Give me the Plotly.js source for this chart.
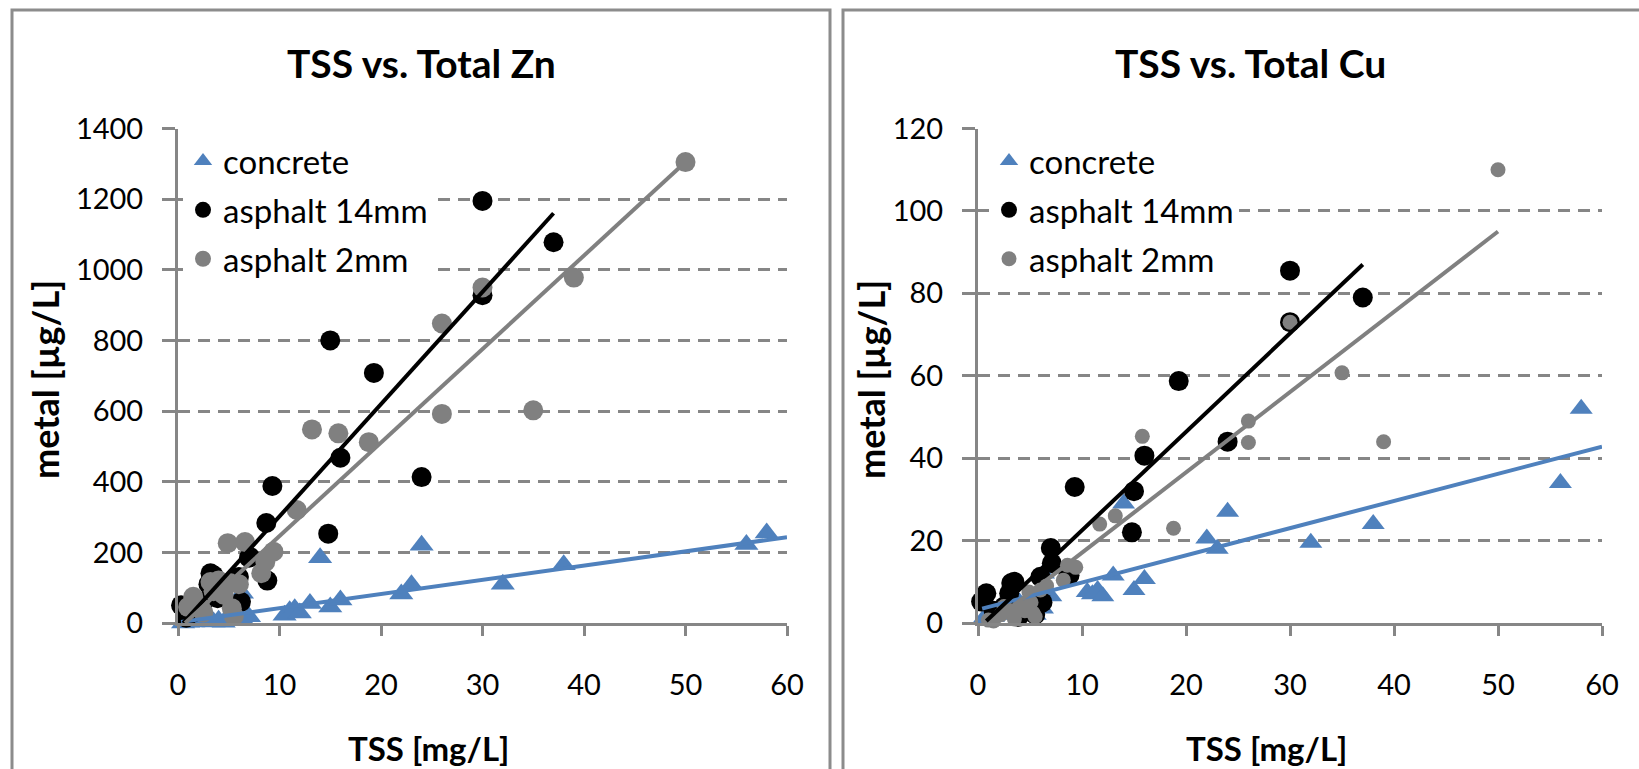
<!DOCTYPE html>
<html>
<head>
<meta charset="utf-8">
<script src="https://cdn.plot.ly/plotly-3.0.1.min.js"></script>
<style>html,body{margin:0;padding:0;background:#fff;}#chart{width:1639px;height:769px;}</style>
</head>
<body>
<div id="chart"></div>
<script>
// ---- data ----
const tssConcrete = [0.5, 1, 1.5, 2, 3.5, 4, 4.5, 5.5, 6.2, 6.3, 7, 10.5, 11, 11.5, 12, 13, 14, 15, 16, 22, 23, 24, 32, 38, 56, 58];
const znConcrete  = [0, 2, 3, 5, 3, 8, 2, 12, 15, 84, 18, 22, 35, 40, 28, 55, 185, 45, 65, 82, 108, 220, 110, 165, 222, 255];
const cuConcrete  = [1, 0.5, 1.5, 2, 4, 5, 3, 2, 3.5, 12, 6.5, 7.5, 7, 8, 6.5, 11.5, 29, 8, 10.7, 20.5, 18, 27, 19.5, 24, 34, 52];

const tssAsph14 = [0.3, 0.8, 1.5, 2.5, 3, 3.2, 3.5, 3.9, 4.5, 5.5, 6, 6.2, 7, 7.1, 8.7, 8.8, 9.3, 14.8, 15, 16, 19.3, 24, 30, 30, 37];
const znAsph14  = [50, 15, 30, 60, 110, 141, 135, 70, 100, 40, 130, 60, 185, 187, 283, 120, 388, 253, 800, 468, 708, 413, 1195, 928, 1078];
const cuAsph14  = [5.2, 7.2, 3, 4, 7.2, 9.7, 10, 1.5, 3, 2, 11.2, 5, 18.2, 14.5, 12, 11.6, 33, 22, 32, 40.6, 58.7, 44, 85.5, 73, 79];

const tssAsph2 = [1, 1.5, 2.2, 2.5, 3.2, 3.5, 4, 4.5, 4.9, 5.1, 5.3, 5.5, 6, 6.6, 8.2, 8.6, 9.4, 11.7, 13.2, 15.8, 18.8, 26, 26, 30, 35, 39, 50];
const znAsph2  = [45, 74, 45, 30, 116, 90, 120, 80, 226, 113, 42, 20, 110, 229, 141, 173, 202, 320, 548, 537, 512, 848, 592, 950, 602, 978, 1305];
const cuAsph2  = [0.7, 0.5, 2, 4, 3, 1, 4, 3, 7.5, 5, 2.4, 1.5, 8, 9, 10.4, 14, 13.5, 24, 26, 45.3, 23, 49, 43.8, 73, 60.7, 44, 110];

// trendline end points
const trendZnConcreteX = [0.3, 60],  trendZnConcreteY = [3, 243];
const trendZnAsph14X   = [0.5, 37],  trendZnAsph14Y   = [0, 1160];
const trendZnAsph2X    = [0.7, 50],  trendZnAsph2Y    = [0, 1305];
const trendCuConcreteX = [0.4, 60],  trendCuConcreteY = [3.5, 42.8];
const trendCuAsph14X   = [0.8, 37],  trendCuAsph14Y   = [0.5, 87];
const trendCuAsph2X    = [1.5, 50],  trendCuAsph2Y    = [0.5, 95];

const seriesNames = ['concrete', 'asphalt 14mm', 'asphalt 2mm'];
const titles = ['TSS vs. Total Zn', 'TSS vs. Total Cu'];
const xTitle = 'TSS [mg/L]';
const yTitle = 'metal [µg/L]';
const yTicksZn = [0, 200, 400, 600, 800, 1000, 1200, 1400];
const yTicksCu = [0, 20, 40, 60, 80, 100, 120];
const xTicks = [0, 10, 20, 30, 40, 50, 60];

// ---- styling ----
const W = 1639, H = 769;
const BLUE = '#4f81bd', BLACK = '#000000', GRAY = '#808080', AX = '#868686';
const FONT = 'Lato, "Open Sans", sans-serif';

function pts(x, y, name, color, symbol, size, xa, ya, leg, show) {
  return {x, y, name, type: 'scatter', mode: 'markers', xaxis: xa, yaxis: ya,
    marker: {color, symbol, size, line: {width: 0}}, cliponaxis: false,
    legend: leg, legendgroup: leg + name, showlegend: show};
}
function trend(x, y, color, xa, ya) {
  return {x, y, type: 'scatter', mode: 'lines', xaxis: xa, yaxis: ya,
    line: {color, width: 4}, showlegend: false, hoverinfo: 'skip', cliponaxis: false};
}

const data = [
  pts(tssConcrete, znConcrete, seriesNames[0], BLUE, 'triangle-up', 21, 'x', 'y', 'legend', true),
  pts(tssAsph14, znAsph14, seriesNames[1], BLACK, 'circle', 20, 'x', 'y', 'legend', true),
  pts(tssAsph2, znAsph2, seriesNames[2], GRAY, 'circle', 20, 'x', 'y', 'legend', true),
  trend(trendZnConcreteX, trendZnConcreteY, BLUE, 'x', 'y'),
  trend(trendZnAsph14X, trendZnAsph14Y, BLACK, 'x', 'y'),
  trend(trendZnAsph2X, trendZnAsph2Y, GRAY, 'x', 'y'),
  pts(tssConcrete, cuConcrete, seriesNames[0], BLUE, 'triangle-up', 20, 'x2', 'y2', 'legend2', true),
  pts(tssAsph14, cuAsph14, seriesNames[1], BLACK, 'circle', 20, 'x2', 'y2', 'legend2', true),
  pts(tssAsph2, cuAsph2, seriesNames[2], GRAY, 'circle', 15, 'x2', 'y2', 'legend2', true),
  trend(trendCuConcreteX, trendCuConcreteY, BLUE, 'x2', 'y2'),
  trend(trendCuAsph14X, trendCuAsph14Y, BLACK, 'x2', 'y2'),
  trend(trendCuAsph2X, trendCuAsph2Y, GRAY, 'x2', 'y2')
];

const px = v => v / W, py = v => 1 - v / H;

function xaxis(domain, anchor) {
  return {domain, anchor, range: [0, 60], tickvals: xTicks, ticks: 'outside', ticklen: 10,
    tickwidth: 3, tickcolor: AX, showline: true, linecolor: AX, linewidth: 3,
    showgrid: false, zeroline: false, fixedrange: true, ticklabelstandoff: 24,
    tickfont: {family: FONT, size: 29, color: '#000'}};
}
function yaxis(domain, anchor, range, ticks) {
  return {domain, anchor, range, tickvals: ticks, ticks: 'outside', ticklen: 13,
    tickwidth: 3, tickcolor: AX, showline: true, linecolor: AX, linewidth: 3,
    showgrid: true, gridcolor: AX, gridwidth: 3, griddash: '12px,8px',
    zeroline: false, fixedrange: true, ticklabelstandoff: 13,
    tickfont: {family: FONT, size: 29, color: '#000'}};
}
function legend(xpix) {
  return {x: px(xpix), y: py(133), xanchor: 'left', yanchor: 'top', bgcolor: '#ffffff',
    borderwidth: 0, font: {family: FONT, size: 33, color: '#000'},
    traceorder: 'grouped', tracegroupgap: 3, itemclick: false, itemdoubleclick: false};
}
function ann(text, x, y, size, rot) {
  return {text, x: px(x), y: py(y), xref: 'paper', yref: 'paper', showarrow: false,
    xanchor: 'center', yanchor: 'middle', textangle: rot || 0,
    font: {family: FONT, size, color: '#000', weight: 'bold'}};
}

const layout = {
  width: W, height: H, margin: {l: 0, r: 0, t: 0, b: 0},
  paper_bgcolor: '#ffffff', plot_bgcolor: 'rgba(0,0,0,0)',
  xaxis: xaxis([px(178), px(787)], 'y'),
  yaxis: yaxis([py(623), py(128.5)], 'x', [0, 1400], yTicksZn),
  xaxis2: xaxis([px(978), px(1602)], 'y2'),
  yaxis2: yaxis([py(623), py(128.5)], 'x2', [0, 120], yTicksCu),
  legend: legend(183),
  legend2: legend(989),
  annotations: [
    ann(titles[0], 421, 63, 39), ann(titles[1], 1250, 63, 39),
    ann(xTitle, 428, 748, 33), ann(xTitle, 1266, 748, 33),
    ann(yTitle, 45, 380, 36, -90), ann(yTitle, 871, 380, 36, -90)
  ],
  shapes: [
    {type: 'rect', xref: 'paper', yref: 'paper', x0: px(12), x1: px(830), y0: -0.2, y1: py(10),
     line: {color: '#8c8c8c', width: 3}, fillcolor: 'rgba(0,0,0,0)', layer: 'below'},
    {type: 'rect', xref: 'paper', yref: 'paper', x0: px(843), x1: 1.2, y0: -0.2, y1: py(10),
     line: {color: '#8c8c8c', width: 3}, fillcolor: 'rgba(0,0,0,0)', layer: 'below'}
  ],
  showlegend: true
};

Plotly.newPlot('chart', data, layout, {staticPlot: true, displayModeBar: false});
</script>
</body>
</html>
